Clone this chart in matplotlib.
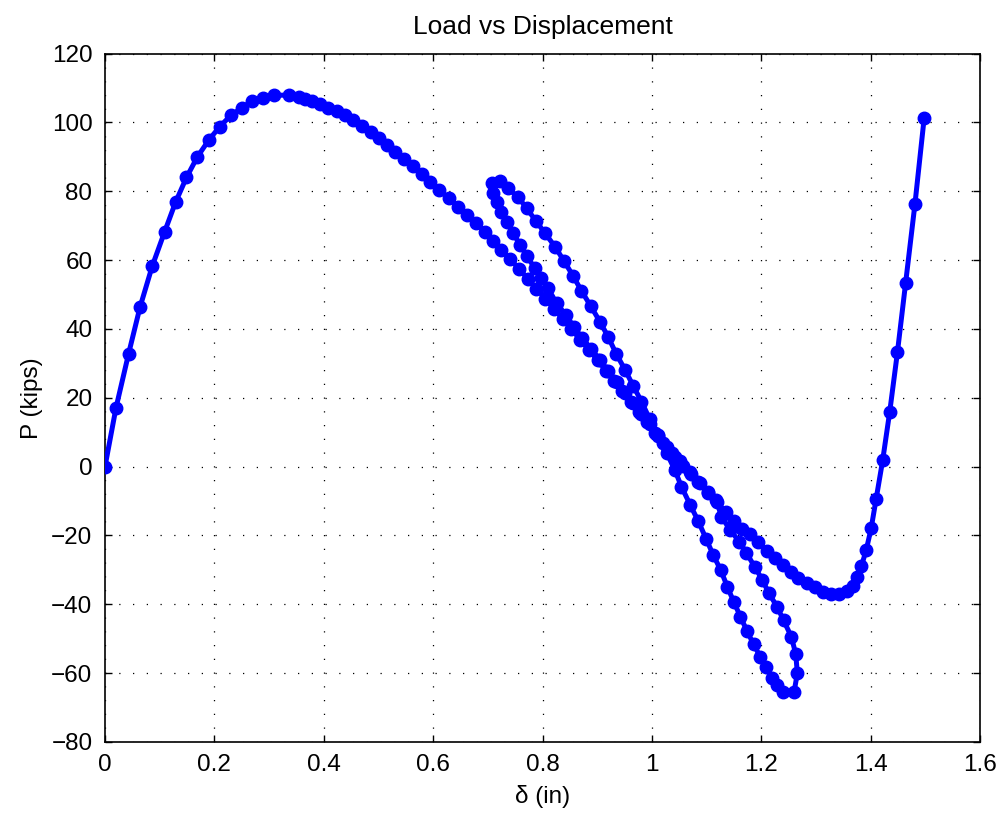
import numpy as np
import matplotlib
matplotlib.use("Agg")
import matplotlib.pyplot as plt

plt.rcParams['font.family'] = ['Liberation Sans', 'DejaVu Sans']

# Branch 1: loading to peak, softening, down to the lower bundle (delta in, P kips)
b1_delta = [0.000, 0.020, 0.043, 0.064, 0.0865, 0.109, 0.129, 0.149, 0.169, 0.190,
            0.210, 0.230, 0.250, 0.268, 0.288, 0.309, 0.336, 0.355, 0.366, 0.379,
            0.393, 0.408, 0.424, 0.439, 0.454, 0.470, 0.486, 0.501, 0.516, 0.531,
            0.547, 0.563, 0.579, 0.594, 0.611, 0.629, 0.646, 0.662, 0.679, 0.695,
            0.709, 0.725, 0.741, 0.757, 0.773, 0.789, 0.805, 0.821, 0.837, 0.853,
            0.869, 0.885, 0.901, 0.916, 0.931, 0.946, 0.961, 0.976, 0.991, 1.006,
            1.021, 1.036, 1.051, 1.070, 1.085, 1.103, 1.118]
b1_load = [0.0, 17.0, 32.7, 46.3, 58.3, 68.2, 76.8, 84.0, 90.0, 94.9,
           98.8, 102.0, 104.2, 106.1, 107.1, 107.9, 107.9, 107.4, 106.9, 106.3,
           105.3, 104.3, 103.4, 102.1, 100.7, 99.0, 97.1, 95.4, 93.4, 91.5,
           89.5, 87.3, 85.0, 82.7, 80.3, 77.9, 75.5, 73.1, 70.7, 68.2,
           65.6, 62.9, 60.2, 57.5, 54.6, 51.7, 48.8, 45.9, 42.9, 39.9,
           36.9, 33.9, 30.9, 27.9, 24.9, 21.9, 18.9, 15.9, 12.9, 9.9,
           6.9, 3.9, 1.5, -1.5, -4.4, -7.3, -9.7]

# Branch 2: middle line down to the lower turning point
b2_delta = [1.127, 1.143, 1.160, 1.173, 1.188, 1.202, 1.214, 1.229, 1.241, 1.255,
            1.263, 1.266, 1.260, 1.239]
b2_load = [-14.5, -18.4, -21.8, -25.1, -29.1, -32.9, -36.8, -40.7, -44.7, -49.4,
           -54.4, -60.0, -65.5, -65.5]

# Branch 3: steep return up to the upper turning point of the loop
b3_delta = [1.228, 1.219, 1.209, 1.198, 1.186, 1.174, 1.162, 1.150, 1.138, 1.126,
            1.112, 1.099, 1.085, 1.070, 1.054, 1.042, 1.027, 1.012, 0.996, 0.981,
            0.966, 0.951, 0.935, 0.920, 0.905, 0.888, 0.871, 0.856, 0.839, 0.823,
            0.804, 0.788, 0.771, 0.756, 0.737, 0.722, 0.708]
b3_load = [-63.3, -61.4, -58.2, -55.2, -51.6, -47.8, -43.6, -39.4, -34.9, -30.1,
           -25.6, -20.9, -15.9, -11.1, -5.8, -1.0, 4.0, 8.9, 13.8, 18.9,
           23.4, 28.1, 32.7, 37.7, 42.1, 46.7, 51.1, 55.4, 59.8, 63.9,
           67.9, 71.4, 75.0, 78.2, 80.8, 83.0, 82.3]

# Branch 4: inner line of the loop back down into the bundle
b4_delta = [0.710, 0.716, 0.725, 0.735, 0.746, 0.759, 0.771, 0.786, 0.798, 0.810,
            0.826, 0.843, 0.858, 0.873, 0.889, 0.905, 0.920, 0.936, 0.951, 0.966,
            0.981, 0.996, 1.012, 1.027, 1.042, 1.057, 1.072, 1.088, 1.103, 1.119]
b4_load = [79.6, 76.9, 74.0, 71.0, 67.9, 64.4, 61.3, 57.6, 54.7, 51.8,
           47.4, 44.0, 40.5, 37.3, 34.2, 31.0, 27.8, 24.6, 21.5, 18.4,
           15.3, 12.4, 9.2, 5.8, 2.9, 0.3, -2.2, -4.9, -7.6, -10.2]

# Branch 5: shallow valley and final stiffening
b5_delta = [1.135, 1.151, 1.165, 1.180, 1.194, 1.210, 1.225, 1.240, 1.255, 1.268,
            1.283, 1.298, 1.312, 1.327, 1.342, 1.356, 1.367, 1.375, 1.383, 1.392,
            1.401, 1.410, 1.422, 1.435, 1.449, 1.464, 1.481, 1.498]
b5_load = [-13.3, -15.9, -18.0, -19.5, -21.9, -24.4, -26.6, -28.5, -30.5, -32.4,
           -33.8, -35.1, -36.3, -37.0, -37.0, -36.1, -34.6, -32.2, -29.0, -24.2,
           -17.9, -9.5, 1.8, 16.0, 33.2, 53.4, 76.2, 101.4]

x_ticks = [0, 0.2, 0.4, 0.6, 0.8, 1.0, 1.2, 1.4, 1.6]
x_tick_labels = ['0', '0.2', '0.4', '0.6', '0.8', '1', '1.2', '1.4', '1.6']
y_ticks = [-80, -60, -40, -20, 0, 20, 40, 60, 80, 100, 120]

delta = np.concatenate([b1_delta, b2_delta, b3_delta, b4_delta, b5_delta])
load = np.concatenate([b1_load, b2_load, b3_load, b4_load, b5_load])

fig = plt.figure(figsize=(10, 8.16), dpi=100)
ax = fig.add_axes([0.105, 0.0907, 0.875, 0.8437])

ax.plot(delta, load, color=(0, 0, 1), linewidth=3.6, marker='o',
        markersize=9, markerfacecolor=(0, 0, 1), markeredgecolor=(0, 0, 1),
        zorder=3)

ax.set_xlim(0, 1.6)
ax.set_ylim(-80, 120)
ax.set_xticks(x_ticks)
ax.set_xticklabels(x_tick_labels)
ax.set_yticks(y_ticks)

ax.grid(True, color='black', linestyle=(0, (1, 10)), linewidth=0.9)
ax.tick_params(direction='in', length=5, width=1, top=True, right=True,
               labelsize=17.5, pad=9, colors='black')
for s in ax.spines.values():
    s.set_linewidth(1.2)
    s.set_color('black')

ax.set_title('Load vs Displacement', fontsize=19, pad=14)
ax.set_xlabel('δ (in)', fontsize=17.5, labelpad=6)
ax.set_ylabel('P (kips)', fontsize=17.5, labelpad=6)

fig.savefig('out.png', dpi=100)
